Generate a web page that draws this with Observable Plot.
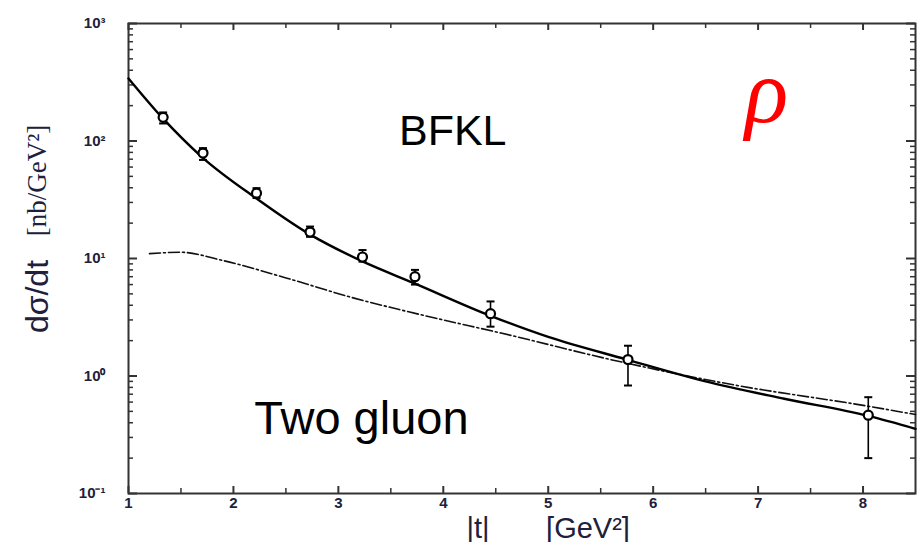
<!DOCTYPE html>
<html><head><meta charset="utf-8">
<script src="https://cdn.jsdelivr.net/npm/d3@7"></script>
<script src="https://cdn.jsdelivr.net/npm/@observablehq/plot@0.6"></script>
<style>body{margin:0;background:#fff} #chart svg{display:block}</style>
</head><body><div id="chart"></div>
<script>
// ---- data ----
const xDomain = [1, 8.5];
const yDomain = [0.1, 1000];
const xMajor = [1, 2, 3, 4, 5, 6, 7, 8];
const xMinor = [1.5, 2.5, 3.5, 4.5, 5.5, 6.5, 7.5];
const xTickLabels = ["1", "2", "3", "4", "5", "6", "7", "8"];
const yMajor = [0.1, 1, 10, 100, 1000];
const yTickLabels = ["10\u207B\u00B9", "10\u2070", "10\u00B9", "10\u00B2", "10\u00B3"];
const yMinor = [0.1, 1, 10, 100].flatMap(d => [2,3,4,5,6,7,8,9].map(k => k * d));

// BFKL curve (solid)
const bfklT = [1, 1.33, 1.7, 2.22, 2.72, 3.23, 3.72, 4.45, 5, 5.75, 6.5, 7.25, 8.05, 8.5];
const bfklV = [341, 155, 73, 32.4, 16.2, 9.44, 6.17, 3.25, 2.15, 1.38, 0.90, 0.64, 0.457, 0.355];
// Two-gluon curve (dash-dot)
const gluonT = [1.2, 1.5, 1.88, 2.51, 3.15, 3.59, 3.91, 4.55, 5.69, 6.77, 8.05, 8.5];
const gluonV = [11.0, 11.3, 9.7, 6.8, 4.6, 3.66, 3.13, 2.32, 1.32, 0.84, 0.553, 0.47];
// measured points with errors
const dataT  = [1.33, 1.71, 2.22, 2.73, 3.23, 3.73, 4.45, 5.76, 8.05];
const dataV  = [159, 79, 36, 16.8, 10.3, 7.0, 3.39, 1.38, 0.464];
const dataLo = [141, 69, 32.7, 15.3, 9.4, 6.0, 2.63, 0.83, 0.2];
const dataHi = [175, 87, 39.7, 18.7, 11.8, 8.0, 4.31, 1.81, 0.66];

const annoText = ["BFKL"];
const annoT = [4.09];
const annoV = [92];
const anno2Text = ["Two gluon"];
const anno2T = [3.22];
const anno2V = [0.318];
const rhoText = ["\u03C1"];
const rhoT = [7.08];
const rhoV = [145];

const xTitleA = "|t|";
const xTitleB = "[GeV\u00B2]";
const yTitleA = "d\u03C3/dt";
const yTitleB = "[nb/GeV\u00B2]";

// ---- build tables ----
const bfkl = bfklT.map((t, i) => ({t, v: bfklV[i]}));
const gluon = gluonT.map((t, i) => ({t, v: gluonV[i]}));
const pts = dataT.map((t, i) => ({t, v: dataV[i], lo: dataLo[i], hi: dataHi[i]}));
const annos = annoText.map((s, i) => ({s, t: annoT[i], v: annoV[i]}));
const annos2 = anno2Text.map((s, i) => ({s, t: anno2T[i], v: anno2V[i]}));
const rho = rhoText.map((s, i) => ({s, t: rhoT[i], v: rhoV[i]}));

const W = 918, H = 542, mL = 128, mR = 3, mT = 23, mB = 49;
const frameH = H - mT - mB, frameW = W - mL - mR;
const axisColor = "#333";
const labelColor = "#20203c";
const sans = "'Liberation Sans', Arial, sans-serif";
const serif = "'Liberation Serif', 'Times New Roman', serif";
const capSymbol = {draw(ctx, size) { const w = Math.sqrt(size / Math.PI); ctx.moveTo(-w, 0); ctx.lineTo(w, 0); }};

const chart = Plot.plot({
  width: W, height: H,
  marginLeft: mL, marginRight: mR, marginTop: mT, marginBottom: mB,
  style: {fontFamily: sans, background: "white"},
  x: {domain: xDomain, axis: null},
  y: {type: "log", domain: yDomain, axis: null},
  marks: [
    // inward ticks
    Plot.tickX(xMajor, {x: d => d, insetTop: frameH - 7, stroke: axisColor, strokeWidth: 2}),
    Plot.tickX(xMajor, {x: d => d, insetBottom: frameH - 7, stroke: axisColor, strokeWidth: 2}),
    Plot.tickX(xMinor, {x: d => d, insetTop: frameH - 5, stroke: axisColor, strokeWidth: 1.5}),
    Plot.tickX(xMinor, {x: d => d, insetBottom: frameH - 5, stroke: axisColor, strokeWidth: 1.5}),
    Plot.tickY(yMajor, {y: d => d, insetRight: frameW - 9, stroke: axisColor, strokeWidth: 2}),
    Plot.tickY(yMajor, {y: d => d, insetLeft: frameW - 9, stroke: axisColor, strokeWidth: 2}),
    Plot.tickY(yMinor, {y: d => d, insetRight: frameW - 5, stroke: axisColor, strokeWidth: 1.5}),
    Plot.tickY(yMinor, {y: d => d, insetLeft: frameW - 5, stroke: axisColor, strokeWidth: 1.5}),
    Plot.frame({stroke: axisColor, strokeWidth: 2}),
    // tick labels
    Plot.axisX(xMajor, {tickSize: 0, tickPadding: 4, label: null, fontSize: 15, fontWeight: "bold", fill: labelColor,
      tickFormat: d => xTickLabels[xMajor.indexOf(d)]}),
    Plot.axisY(yMajor, {tickSize: 0, tickPadding: 23, label: null, fontSize: 15, fontWeight: "bold", fill: labelColor,
      tickFormat: d => yTickLabels[yMajor.indexOf(d)]}),
    // curves
    Plot.line(gluon, {x: "t", y: "v", curve: "monotone-x", stroke: "#111", strokeWidth: 1.6, strokeDasharray: "11,3,2,3"}),
    Plot.line(bfkl, {x: "t", y: "v", curve: "monotone-x", stroke: "#000", strokeWidth: 2.4}),
    // error bars + points
    Plot.ruleX(pts, {x: "t", y1: "lo", y2: "hi", stroke: "#000", strokeWidth: 1.6}),
    Plot.dot(pts, {x: "t", y: "lo", symbol: capSymbol, r: 4, fill: "none", stroke: "#000", strokeWidth: 2}),
    Plot.dot(pts, {x: "t", y: "hi", symbol: capSymbol, r: 4, fill: "none", stroke: "#000", strokeWidth: 2}),
    Plot.dot(pts, {x: "t", y: "v", r: 4.5, fill: "white", stroke: "#000", strokeWidth: 2.2}),
    // annotations
    Plot.text(annos, {x: "t", y: "v", text: "s", fontSize: 43, fill: "#000", lineAnchor: "bottom", fontFamily: sans}),
    Plot.text(annos2, {x: "t", y: "v", text: "s", fontSize: 47, fill: "#000", lineAnchor: "bottom", fontFamily: sans}),
    Plot.text(rho, {x: "t", y: "v", text: "s", fontSize: 90, fill: "#ff0000", fontStyle: "italic", lineAnchor: "bottom", fontFamily: serif}),
    // axis titles
    Plot.text([xTitleA], {frameAnchor: "bottom", textAnchor: "middle", text: d => d, dx: -44, dy: 44, lineAnchor: "bottom", fontSize: 29, fill: labelColor, fontFamily: sans}),
    Plot.text([xTitleB], {frameAnchor: "bottom", textAnchor: "middle", text: d => d, dx: 66, dy: 44, lineAnchor: "bottom", fontSize: 29, fill: labelColor, fontFamily: sans}),
    Plot.text([yTitleA], {frameAnchor: "left", textAnchor: "middle", text: d => d, rotate: -90, dx: -91, dy: 38, fontSize: 32, fill: labelColor, fontFamily: sans}),
    Plot.text([yTitleB], {frameAnchor: "left", textAnchor: "middle", text: d => d, rotate: -90, dx: -91, dy: -78, fontSize: 27, fill: labelColor, fontFamily: serif})
  ]
});
document.getElementById("chart").appendChild(chart);
</script>
</body></html>
